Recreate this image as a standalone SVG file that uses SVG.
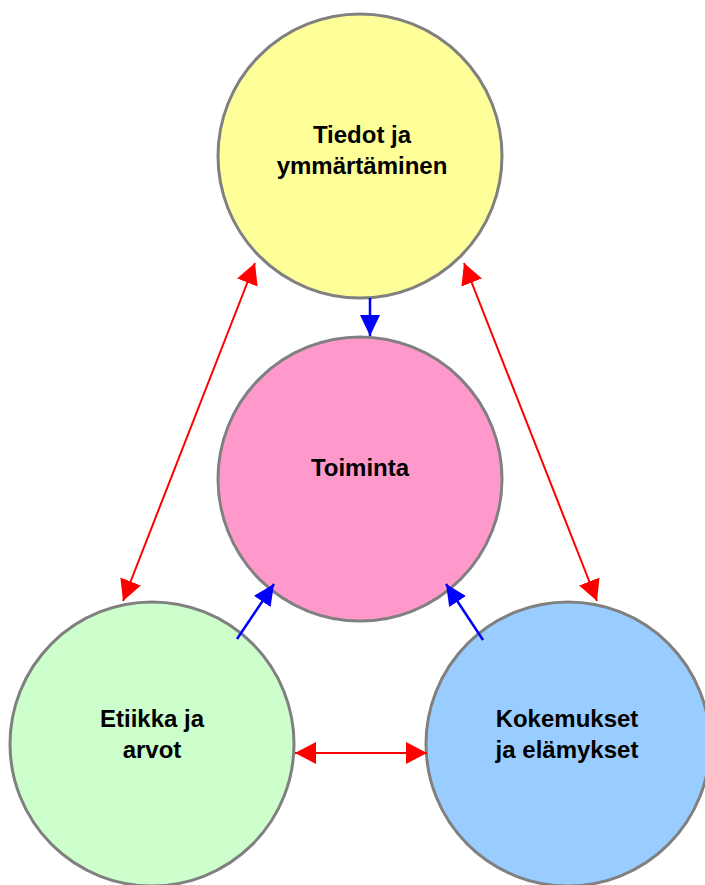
<svg xmlns="http://www.w3.org/2000/svg" width="705" height="885" viewBox="0 0 705 885">
<style>
.node{stroke:#808080;stroke-width:3}
.lbl{font-family:"Liberation Sans",Arial,sans-serif;font-weight:bold;font-size:24px;fill:#000;text-anchor:middle}
.red{stroke:#FF0000;stroke-width:2;fill:none}
.blue{stroke:#0000FF;stroke-width:2.5;fill:none}
</style>
<defs>
<marker id="ar" markerUnits="userSpaceOnUse" markerWidth="22" markerHeight="22" refX="21" refY="11" orient="auto-start-reverse" viewBox="0 0 22 22"><path d="M0,0 L21,11 L0,22 z" fill="#FF0000"/></marker>
<marker id="ab" markerUnits="userSpaceOnUse" markerWidth="21" markerHeight="20" refX="21" refY="10" orient="auto" viewBox="0 0 21 20"><path d="M0,0 L21,10 L0,20 z" fill="#0000FF"/></marker>
</defs>
<rect width="705" height="885" fill="#FFFFFF"/>
<g id="tiedot">
<circle class="node" cx="360" cy="156" r="142" fill="#FFFF99"/>
<text class="lbl" x="362" y="143">Tiedot ja</text>
<text class="lbl" x="362" y="174">ymmärtäminen</text>
</g>
<g id="toiminta">
<circle class="node" cx="360" cy="479" r="142" fill="#FF99CC"/>
<text class="lbl" x="360" y="476">Toiminta</text>
</g>
<g id="etiikka">
<circle class="node" cx="152" cy="744" r="142" fill="#CCFFCC"/>
<text class="lbl" x="152" y="727">Etiikka ja</text>
<text class="lbl" x="152" y="758">arvot</text>
</g>
<g id="kokemukset">
<circle class="node" cx="568" cy="744" r="142" fill="#99CCFF"/>
<text class="lbl" x="567" y="727">Kokemukset</text>
<text class="lbl" x="567" y="758">ja elämykset</text>
</g>
<g id="connectors">
<line class="red" x1="255" y1="263" x2="123" y2="601" marker-start="url(#ar)" marker-end="url(#ar)"/>
<line class="red" x1="464" y1="263" x2="597" y2="601" marker-start="url(#ar)" marker-end="url(#ar)"/>
<line class="red" x1="295" y1="753" x2="427" y2="753" marker-start="url(#ar)" marker-end="url(#ar)"/>
<line class="blue" x1="370" y1="298" x2="370" y2="336" marker-end="url(#ab)"/>
<line class="blue" x1="237" y1="639" x2="274" y2="584" marker-end="url(#ab)"/>
<line class="blue" x1="483" y1="640" x2="446" y2="584" marker-end="url(#ab)"/>
</g>
</svg>
